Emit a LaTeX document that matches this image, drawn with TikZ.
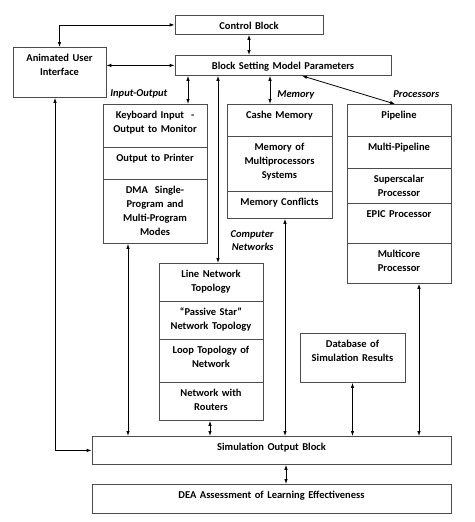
\documentclass[tikz,border=0pt]{standalone}
\usepackage{fontspec}
\setmainfont{Carlito}
\usetikzlibrary{arrows.meta}

\begin{document}
\begin{tikzpicture}
  [x=1pt, y=-1pt, line width=0.8pt, >={Latex[length=5pt,width=3.5pt]},
   blk/.style 2 args={draw=black!70, align=center, anchor=north, inner xsep=0pt,
     inner ysep=4pt, text height=10pt, text width=#1, text depth=#2,
     font=\fontsize{10.5}{14}\selectfont\bfseries},
   lbl/.style={inner sep=0pt, font=\fontsize{10.5}{13}\selectfont\bfseries\itshape}]
  \useasboundingbox (0,0) rectangle (474,522);

  \node[blk={148pt}{1pt}] (ctrl) at (249,15) {Control Block};
  \node[blk={216pt}{2pt}] (bsmp) at (283,55) {Block Setting Model Parameters};
  \node[blk={93pt}{32pt}] (aui) at (59.5,47) {Animated User\\Interface};

  % input-output
  \node[blk={104pt}{25pt}] (io1) at (155,104) {Keyboard Input\ \ -\\Output to Monitor};
  \node[blk={104pt}{14pt}] (io2) at (155,147) {Output to Printer};
  \node[blk={104pt}{46pt}] (io3) at (155,179) {DMA\ \ Single-\\Program and\\Multi-Program\\Modes};

  % memory
  \node[blk={105pt}{14pt}] (mem1) at (279.5,104) {Cashe Memory};
  \node[blk={105pt}{37pt}] (mem2) at (279.5,136) {Memory of\\Multiprocessors\\Systems};
  \node[blk={105pt}{9pt}] (mem3) at (279.5,191) {Memory Conflicts};

  % processors
  \node[blk={104pt}{14pt}] (proc1) at (399,104) {Pipeline};
  \node[blk={104pt}{14pt}] (proc2) at (399,136) {Multi-Pipeline};
  \node[blk={104pt}{17pt}] (proc3) at (399,168) {Superscalar\\Processor};
  \node[blk={104pt}{22pt}] (proc4) at (399,203) {EPIC Processor};
  \node[blk={104pt}{22pt}] (proc5) at (399,243) {Multicore\\Processor};

  % computer networks
  \node[blk={104pt}{20pt}] (net1) at (211,263) {Line Network\\Topology};
  \node[blk={104pt}{20pt}] (net2) at (211,301) {“Passive Star”\\Network Topology};
  \node[blk={104pt}{25pt}] (net3) at (211,339) {Loop Topology of\\Network};
  \node[blk={104pt}{20pt}] (net4) at (211,382) {Network with\\Routers};

  \node[blk={105pt}{31pt}] (db) at (352.5,333) {Database of\\Simulation Results};
  \node[blk={359pt}{10pt}] (sim) at (271.5,436) {Simulation Output Block};
  \node[blk={359pt}{11pt}] (dea) at (271.5,484) {DEA Assessment of Learning Effectiveness};

  \node[lbl, anchor=base west] (lio) at (110,96) {Input-Output};
  \node[lbl, anchor=base west] (lmem) at (277,97) {Memory};
  \node[lbl, anchor=base west] (lproc) at (393,97) {Processors};
  \node[lbl, anchor=north east, align=right] (lnet) at (274,230) {Computer\\Networks};

  \draw[<->] (aui.north) |- (ctrl.west);
  \draw[<->] (ctrl.south) -- (ctrl.south |- bsmp.north);
  \draw[<->] (bsmp.west) -- (bsmp.west -| aui.east);
  \foreach \src/\dx in {io1/33pt, net1/7pt, mem1/-9.5pt}
  \draw[<->] ([xshift=\dx]\src.north) -- ([xshift=\dx]\src.north |- bsmp.south);
  \draw[<->] ([xshift=19pt]bsmp.south) -- ([xshift=-4pt]proc1.north);
  \draw[<->] ([xshift=-4.5pt]aui.south) |- (sim.west);
  \foreach \src/\dx in {io3/-27pt, net4/-1pt, mem3/5.5pt, db/0pt, proc5/20pt}
  \draw[<->] ([xshift=\dx]\src.south) -- ([xshift=\dx]\src.south |- sim.north);
  \draw[<->] ([xshift=14.5pt]sim.south) -- ([xshift=14.5pt]sim.south |- dea.north);
\end{tikzpicture}
\end{document}
